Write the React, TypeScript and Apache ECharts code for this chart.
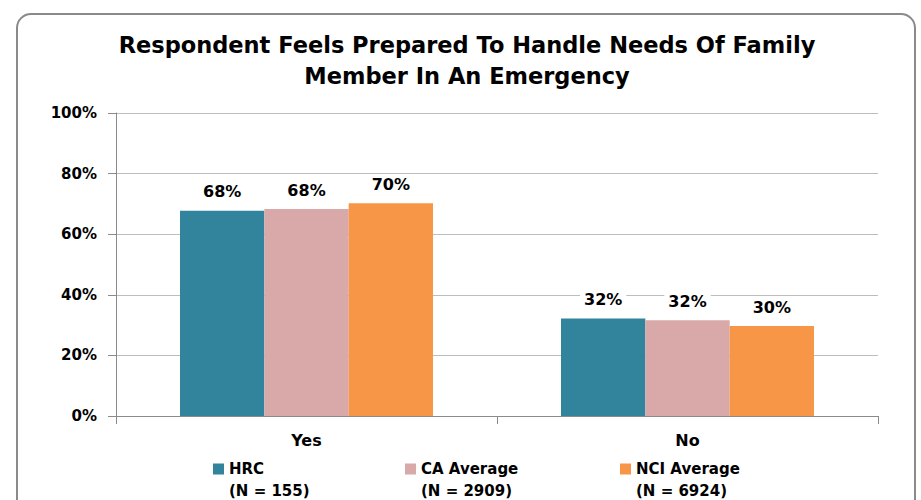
import React, { useEffect, useRef } from "react";
import * as echarts from "echarts";

const categories = ["Yes", "No"];
const seriesNames = ["HRC", "CA Average", "NCI Average"];
const seriesSubtitles = ["(N = 155)", "(N = 2909)", "(N = 6924)"];
const hrcValues = [67.7, 32.2];
const caValues = [68.3, 31.6];
const nciValues = [70.2, 29.7];
const yTicks = [0, 20, 40, 60, 80, 100];
const colors = ["#31849B", "#D9A8A8", "#F79646"];

const FONT = "'DejaVu Sans', sans-serif";
// square icon at the top of a taller (invisible) box so it aligns with the first text line
const LEGEND_ICON = "path://M0,0L11,0L11,11L0,11Z M0,33L0.01,33";

export default function App() {
  const ref = useRef<HTMLDivElement>(null);
  useEffect(() => {
    document.body.style.margin = "0";
    if (!ref.current) return;
    const chart = echarts.init(ref.current, null, { renderer: "svg" });
    const values = [hrcValues, caValues, nciValues];
    const legendLefts = [208, 400, 615];
    chart.setOption({
      animation: false,
      backgroundColor: "#fff",
      title: {
        text: "Respondent Feels Prepared To Handle Needs Of Family\nMember In An Emergency",
        left: 462,
        textAlign: "center",
        top: 24,
        textStyle: {
          fontFamily: FONT,
          fontWeight: "bold",
          fontSize: 22.5,
          lineHeight: 31,
          color: "#000",
        },
      },
      graphic: [
        {
          type: "rect",
          shape: { x: 17, y: 14, width: 898, height: 500, r: 14 },
          style: { fill: "none", stroke: "#8a8a8a", lineWidth: 2 },
          silent: true,
          z: -1,
        },
      ],
      grid: { left: 116, right: 43, top: 113, bottom: 84 },
      xAxis: {
        type: "category",
        data: categories,
        axisLine: { lineStyle: { color: "#8a8a8a" } },
        axisTick: { show: true, length: 8, alignWithLabel: false, lineStyle: { color: "#8a8a8a" } },
        axisLabel: {
          fontFamily: FONT,
          fontWeight: "bold",
          fontSize: 16,
          color: "#000",
          margin: 16,
        },
      },
      yAxis: {
        type: "value",
        min: yTicks[0],
        max: yTicks[yTicks.length - 1],
        interval: 20,
        axisLine: { show: true, lineStyle: { color: "#8a8a8a" } },
        axisTick: { show: true, length: 8, lineStyle: { color: "#8a8a8a" } },
        splitLine: { lineStyle: { color: "#bdbdbd" } },
        axisLabel: {
          formatter: (v: number) => `${v}%`,
          fontFamily: FONT,
          fontWeight: "bold",
          fontSize: 15,
          color: "#000",
          margin: 19,
        },
      },
      legend: seriesNames.map((n, i) => ({
        data: [{ name: n, icon: LEGEND_ICON }],
        left: legendLefts[i],
        top: 453,
        itemWidth: 11,
        itemHeight: 33,
        itemGap: 6,
        itemStyle: { borderWidth: 0 },
        formatter: (name: string) => `${name}\n${seriesSubtitles[seriesNames.indexOf(name)]}`,
        textStyle: {
          fontFamily: FONT,
          fontWeight: "bold",
          fontSize: 15,
          lineHeight: 22,
          color: "#000",
        },
      })),
      series: seriesNames.map((n, i) => ({
        name: n,
        type: "bar",
        data: values[i],
        barGap: "0%",
        barCategoryGap: "33.6%",
        itemStyle: { color: colors[i] },
        label: {
          show: true,
          position: "top",
          distance: 11,
          formatter: (p: any) => `${Math.round(p.value)}%`,
          fontFamily: FONT,
          fontWeight: "bold",
          fontSize: 16,
          color: "#000",
          backgroundColor: "#fff",
          padding: [0, 4],
        },
      })),
    });
    return () => chart.dispose();
  }, []);
  return <div ref={ref} style={{ width: 921, height: 500 }} />;
}
